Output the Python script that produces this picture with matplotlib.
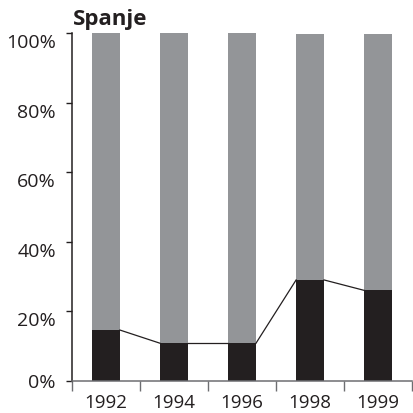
import numpy as np
import matplotlib.pyplot as plt
from matplotlib.ticker import FixedLocator, NullFormatter
from matplotlib.transforms import ScaledTranslation

years = ['1992', '1994', '1996', '1998', '1999']
black_share = [14.6, 10.8, 10.8, 29.0, 26.0]
total_share = [100.0, 100.0, 100.0, 99.6, 99.6]
y_ticks = [0, 20, 40, 60, 80, 100]

plt.rcParams['font.family'] = ['Open Sans', 'DejaVu Sans']

dark = '#231f20'
grey = '#939598'
axgrey = '#6d6e71'
bw = 0.41

fig = plt.figure(figsize=(4.13, 4.13), dpi=100)
ax = fig.add_axes([0.174, 0.078, 0.824, 0.842])

x = np.arange(len(years))
black = np.array(black_share)
rest = np.array(total_share) - black
ax.bar(x, black, width=bw, color=dark, zorder=2)
ax.bar(x, rest, width=bw, bottom=black, color=grey, zorder=2)

# series lines between bar tops
for i in range(len(x) - 1):
    ax.plot([x[i] + bw / 2, x[i + 1] - bw / 2], [black[i], black[i + 1]],
            color=dark, lw=0.9, zorder=3)

ax.set_xlim(-0.5, len(years) - 0.5)
ax.set_ylim(0, 100)

ax.xaxis.set_major_locator(FixedLocator(np.arange(-0.5, len(years), 1.0)))
ax.xaxis.set_major_formatter(NullFormatter())
ax.xaxis.set_minor_locator(FixedLocator(x))
ax.set_xticklabels(years, minor=True)
ax.tick_params(axis='x', which='major', length=7, width=1, color=axgrey, direction='out')
ax.tick_params(axis='x', which='minor', length=0, labelsize=13.5, pad=9.5, labelcolor=dark)

ax.set_yticks(y_ticks)
ax.set_yticklabels([f'{v}%' for v in y_ticks])
ax.tick_params(axis='y', length=4, width=1, color=dark, labelsize=14, pad=7.5, labelcolor=dark)
# labels above zero sit a bit below their ticks in the original
shift = ScaledTranslation(0, -0.08, fig.dpi_scale_trans)
for v, lab in zip(y_ticks, ax.get_yticklabels()):
    if v > 0:
        lab.set_transform(lab.get_transform() + shift)

for s in ['top', 'right']:
    ax.spines[s].set_visible(False)
ax.spines['left'].set_color(dark)
ax.spines['left'].set_linewidth(1.1)
ax.spines['bottom'].set_color(axgrey)
ax.spines['bottom'].set_linewidth(1.1)

fig.text(0.177, 0.94, 'Spanje', fontsize=16, fontweight='bold', color=dark,
         ha='left', va='baseline')

fig.savefig('out.png', dpi=100)
